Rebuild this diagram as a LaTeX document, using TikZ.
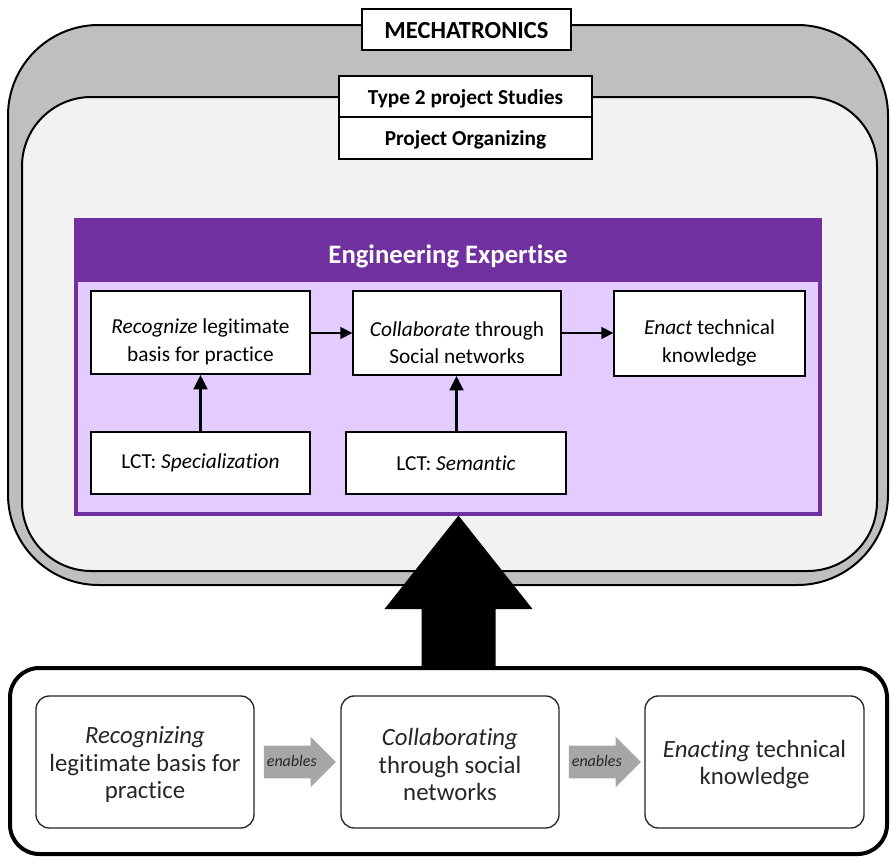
\documentclass[tikz,border=0pt]{standalone}
\usepackage{fontspec}
\setmainfont{Carlito}[Ligatures=NoCommon]
\usetikzlibrary{fit,calc,shapes.arrows,arrows.meta}

\definecolor{shellgray}{HTML}{BFBFBF}
\definecolor{panelgray}{HTML}{F2F2F2}
\definecolor{expertpurple}{HTML}{7030A0}
\definecolor{expertlilac}{HTML}{E3CCFF}
\definecolor{enablegray}{HTML}{A6A6A6}
\definecolor{softblack}{HTML}{262626}

\tikzset{
  labelbox/.style={draw=black, line width=1.4pt, fill=white, inner sep=0pt},
  labeltext/.style={font=\fontsize{16}{19}\selectfont\bfseries, align=center, yshift=-1.5pt},
  stepbox/.style={draw=black, line width=1pt, fill=white, inner sep=0pt},
  steptext/.style={font=\fontsize{16}{20.5}\selectfont, align=center},
  lowtext/.style={steptext, yshift=-7pt},
  phasebox/.style={draw=softblack, line width=1pt, fill=white, inner sep=0pt,
    rounded corners=10pt},
  phasetext/.style={text=softblack, font=\fontsize{18.6}{20.5}\selectfont, align=center, yshift=-2pt},
  flow/.style={-{Triangle[length=9pt,width=9pt]}, line width=1.1pt},
  feed/.style={-{Triangle[length=11pt,width=10pt]}, line width=2.8pt},
  enablearrow/.style={single arrow, fill=enablegray, draw=none,
    single arrow head extend=6.75pt, minimum height=54pt,
    inner xsep=1pt, inner ysep=7pt, text height=8.5pt, text depth=1.5pt,
    text=softblack, font=\fontsize{12}{13}\selectfont\itshape, anchor=tail},
}

\begin{document}
\begin{tikzpicture}[x=0.75pt, y=-0.75pt]
  \useasboundingbox (0,0) rectangle (890,857);

  % outer and inner shells
  \draw[line width=1.5pt, fill=shellgray, rounded corners=68pt] (8,25) rectangle (888,585);
  \draw[line width=1.5pt, fill=panelgray, rounded corners=52pt] (22,97) rectangle (877,571);

  % title tabs
  \node[labelbox, fit={(362,9) (571,50)},
        label={[labeltext, yshift=1pt, font=\fontsize{18.4}{20}\selectfont\bfseries]center:MECHATRONICS}] (mech) {};
  \node[labelbox, fit={(339,76) (592,117)},
        label={[labeltext]center:Type 2 project Studies}] (type2) {};
  \node[labelbox, fit={(339,117) (592,159)},
        label={[labeltext]center:Project Organizing}] (porg) {};

  % engineering expertise panel
  \node[fill=expertlilac, draw=expertpurple, line width=2.4pt, inner sep=0pt,
        fit={(76,220) (820,514)}] (panel) {};
  \node[fill=expertpurple, inner sep=0pt, fit={(75,219) (821,282)},
        label={[text=white, yshift=-4.5pt, font=\fontsize{20}{22}\selectfont\bfseries]center:Engineering Expertise}] (head) {};

  \node[stepbox, fit={(91,291) (310,374)},
        label={[lowtext]center:\textit{Recognize} legitimate\\basis for practice}] (rec) {};
  \node[stepbox, fit={(353,291) (561,375)},
        label={[lowtext]center:\textit{Collaborate} through\\Social networks}] (col) {};
  \node[stepbox, fit={(614,291) (805,376)},
        label={[lowtext]center:\textit{Enact} technical\\knowledge}] (ena) {};
  \node[stepbox, fit={(91,432) (310,494)},
        label={[steptext]center:LCT: \textit{Specialization}}] (spec) {};
  \node[stepbox, fit={(346,432) (566,494)},
        label={[steptext]center:LCT: \textit{Semantic}}] (sem) {};

  \draw[flow] (rec.east |- 0,333) -- (col.west |- 0,333);
  \draw[flow] (col.east |- 0,333) -- (ena.west |- 0,333);
  \draw[feed] (spec.north -| 200.5,0) -- (rec.south -| 200.5,0);
  \draw[feed] (sem.north -| 456.5,0) -- (col.south -| 456.5,0);

  % bottom frame with the three phases
  \node[draw=black, line width=3pt, fill=white, rounded corners=22pt, inner sep=0pt,
        fit={(10,668) (887,854)}] (base) {};

  \node[phasebox, fit={(36,696) (254,828)},
        label={[phasetext]center:\textit{Recognizing}\\legitimate basis for\\practice}] (p1) {};
  \node[phasebox, fit={(341,696) (559,828)},
        label={[phasetext]center:\textit{Collaborating}\\through social\\networks}] (p2) {};
  \node[phasebox, fit={(645,696) (864,828)},
        label={[phasetext]center:\textit{Enacting} technical\\knowledge}] (p3) {};

  \node[enablearrow] (e1) at ($(p1.east)+(9,0)$) {enables};
  \node[enablearrow] (e2) at ($(p2.east)+(9,0)$) {enables};

  % big arrow from the phases up into the expertise panel
  \coordinate (tip) at (panel.south -| 458.5,0);
  \coordinate (foot) at (base.north -| 458.5,0);
  \fill[black] (foot) ++(-37,0) -- ++(0,-57) -- ++(-37,0) -- (tip)
       -- ($(foot)+(74,-57)$) -- ++(-37,0) -- ++(0,57) -- cycle;
\end{tikzpicture}
\end{document}
